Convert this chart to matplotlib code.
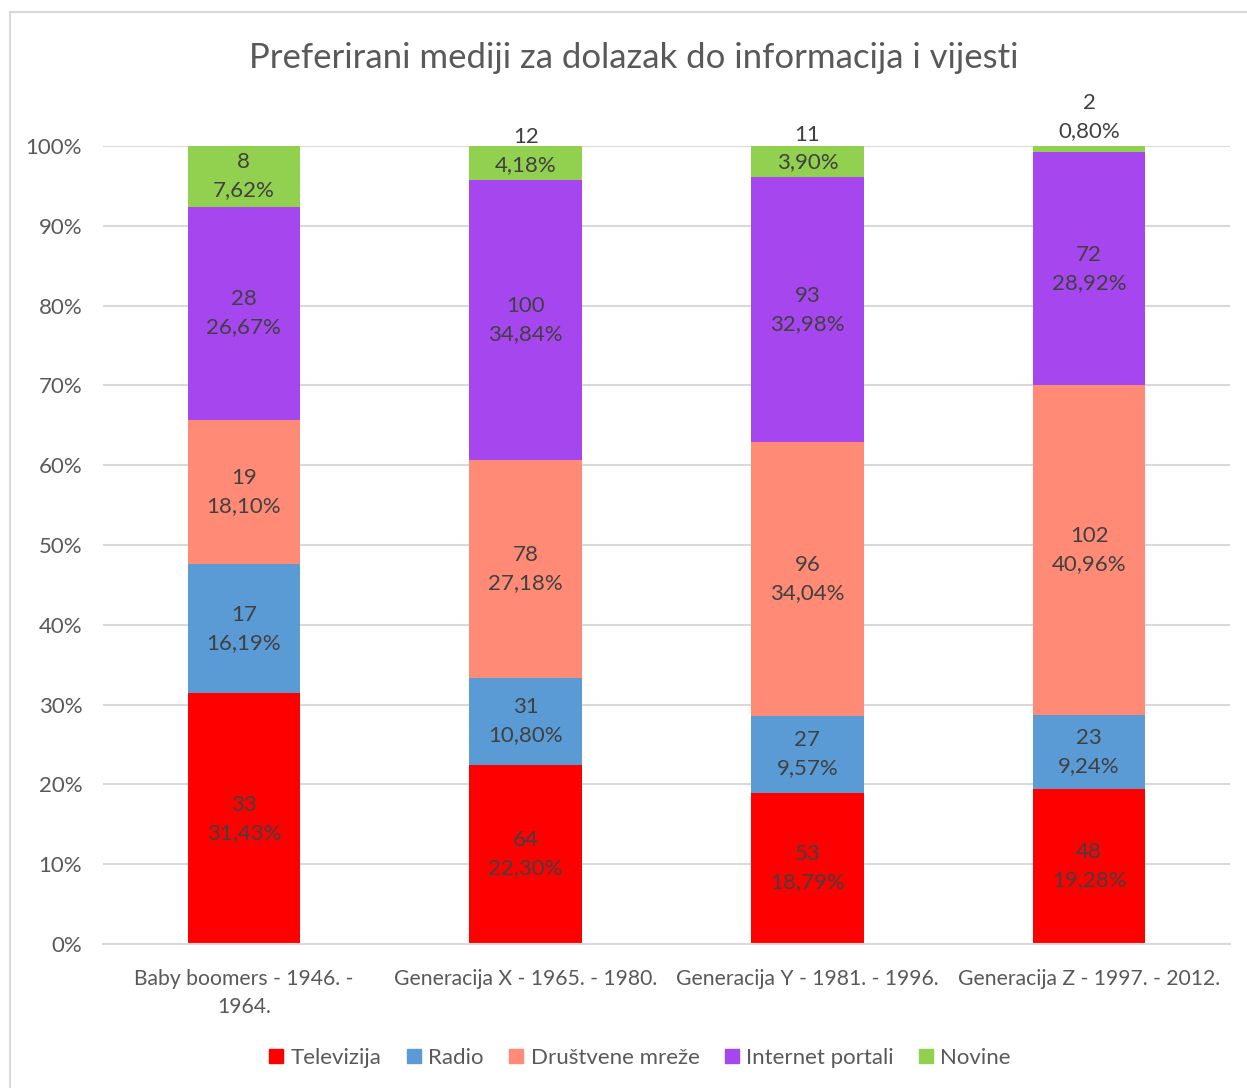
import numpy as np
import matplotlib.pyplot as plt
from matplotlib.lines import Line2D

plt.rcParams['font.family'] = ['Lato', 'DejaVu Sans']

# data
groups = ["Baby boomers - 1946. -\n1964.", "Generacija X - 1965. - 1980.",
          "Generacija Y - 1981. - 1996.", "Generacija Z - 1997. - 2012."]
series = ["Televizija", "Radio", "Društvene mreže", "Internet portali", "Novine"]
televizija = [33, 64, 53, 48]
radio = [17, 31, 27, 23]
drustvene = [19, 78, 96, 102]
portali = [28, 100, 93, 72]
novine = [8, 12, 11, 2]
televizija_pct = ["31,43%", "22,30%", "18,79%", "19,28%"]
radio_pct = ["16,19%", "10,80%", "9,57%", "9,24%"]
drustvene_pct = ["18,10%", "27,18%", "34,04%", "40,96%"]
portali_pct = ["26,67%", "34,84%", "32,98%", "28,92%"]
novine_pct = ["7,62%", "4,18%", "3,90%", "0,80%"]
colors = ["#FF0000", "#5B9BD5", "#FF8B77", "#A546EE", "#92D050"]

counts = np.array([televizija, radio, drustvene, portali, novine], dtype=float)
pcts = [televizija_pct, radio_pct, drustvene_pct, portali_pct, novine_pct]
shares = counts / counts.sum(axis=0) * 100

fig = plt.figure(figsize=(12.47, 10.88), dpi=100)
ax = fig.add_axes([103/1247, 1 - 944/1088, 1127/1247, 798/1088])

x = np.arange(len(groups))
bottom = np.zeros(len(groups))
txt = "#404040"
fs = 16
for i, name in enumerate(series):
    ax.bar(x, shares[i], 0.4, bottom=bottom, color=colors[i], label=name, zorder=2)
    for j in range(len(groups)):
        h = shares[i][j]
        lab = f"{int(counts[i][j])}\n{pcts[i][j]}"
        if h < 2:
            # too thin: label sits above the bar
            ax.text(x[j], bottom[j] + h + 0.6, lab, ha="center", va="bottom",
                    fontsize=fs, color=txt, linespacing=1.5)
        elif h < 6:
            ax.text(x[j], bottom[j] + 0.6, lab, ha="center", va="bottom",
                    fontsize=fs, color=txt, linespacing=1.5)
        else:
            ax.text(x[j], bottom[j] + h / 2, lab, ha="center", va="center",
                    fontsize=fs, color=txt, linespacing=1.5)
    bottom += shares[i]

ax.set_xlim(-0.5, 3.5)
ax.set_ylim(0, 100)
ax.set_yticks(np.arange(0, 101, 10))
ax.set_yticklabels([f"{v}%" for v in range(0, 101, 10)])
ax.set_xticks(x)
ax.set_xticklabels(groups, linespacing=1.5)
ax.tick_params(axis="both", length=0, labelsize=fs, colors="#595959")
ax.tick_params(axis="x", pad=18, labelsize=15.2)
ax.tick_params(axis="y", pad=15)
ax.grid(axis="y", color="#D9D9D9", linewidth=1.5, zorder=0)
for s in ["top", "right", "left"]:
    ax.spines[s].set_visible(False)
ax.spines["bottom"].set_color("#D9D9D9")
ax.spines["bottom"].set_linewidth(1.5)

fig.text(0.508, 1 - 58/1088, "Preferirani mediji za dolazak do informacija i vijesti",
         ha="center", va="center", fontsize=25, color="#595959")

handles = [Line2D([], [], marker="s", linestyle="none", markersize=10,
                  markerfacecolor=c, markeredgecolor=c) for c in colors]
fig.legend(handles, series, loc="center", bbox_to_anchor=(0.513, 1 - 1058/1088),
           ncol=5, frameon=False, fontsize=fs, handlelength=0.7, handletextpad=0.3,
           columnspacing=1.1, labelcolor="#595959")

# chart frame
fig.add_artist(Line2D([10/1247, 10/1247], [0, 1 - 12/1088], color="#D9D9D9", lw=1.5))
fig.add_artist(Line2D([10/1247, 1], [1 - 12/1088, 1 - 12/1088], color="#D9D9D9", lw=1.5))

fig.savefig("out.png", dpi=100)
